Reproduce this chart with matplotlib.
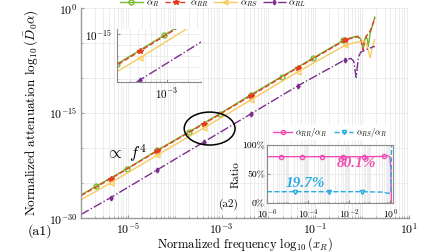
import numpy as np
import matplotlib
matplotlib.use("Agg")
import matplotlib.pyplot as plt
from matplotlib.patches import Ellipse
from matplotlib.ticker import FixedLocator, FuncFormatter, LogLocator, NullFormatter

plt.rcParams['font.family'] = ['cmr10', 'DejaVu Serif']
plt.rcParams['mathtext.fontset'] = 'cm'
plt.rcParams['axes.formatter.use_mathtext'] = True

# values, stored as log10
logx_R = [-6.0, -5.69, -5.03, -4.37, -3.70, -3.04, -2.38, -1.72, -1.06, -0.40,
          -0.25, -0.10, -0.03, 0.02, 0.05, 0.08, 0.11, 0.13, 0.17, 0.22, 0.27]
logy_R = [-26.7, -25.5, -23.0, -20.3, -17.7, -15.1, -12.4, -9.8, -7.2, -4.6,
          -4.25, -4.0, -4.4, -5.9, -4.6, -4.0, -4.5, -5.5, -3.6, -2.5, -1.3]

logx_RR = [-6.0, -5.37, -4.37, -3.37, -2.37, -1.37, -0.37,
           -0.25, -0.10, -0.03, 0.02, 0.05, 0.10, 0.17, 0.22, 0.27]
logy_RR = [-26.8, -24.4, -20.4, -16.5, -12.5, -8.5, -4.6,
           -4.35, -4.1, -4.5, -6.0, -4.7, -3.9, -3.3, -2.4, -1.4]

logx_RS = [-6.0, -5.37, -4.37, -3.37, -2.37, -1.37, -0.37,
           -0.20, 0.04, 0.10, 0.17, 0.22, 0.27]
logy_RS = [-27.4, -25.0, -21.0, -17.1, -13.1, -9.1, -5.35,
           -5.0, -4.7, -5.3, -7.1, -5.5, -4.5]

logx_RL = [-6.0, -5.37, -4.37, -3.37, -2.37, -1.37, -0.37,
           -0.24, -0.18, -0.13, -0.08, -0.03, 0.10, 0.27]
logy_RL = [-29.5, -27.1, -23.1, -19.1, -15.1, -11.1, -7.4,
           -7.2, -7.6, -9.9, -7.0, -6.3, -5.9, -5.45]

# ratio inset
logx_ratio_RR = [-6.0, -5.3, -4.3, -3.3, -2.3, -1.3, -0.32, -0.15, -0.02, 0.03, 0.05, 0.06]
ratio_RR = [80.1, 80.1, 80.1, 80.1, 80.1, 80.1, 80.5, 82.0, 80.0, 60.0, 20.0, -5.0]
logx_ratio_RS = [-6.0, -4.63, -3.0, -1.37, -0.40, -0.10, 0.03, 0.05, 0.07]
ratio_RS = [19.7, 19.7, 19.7, 19.7, 19.0, 17.0, 17.5, 60.0, 110.0]

c_R, c_RR, c_RS, c_RL = '#77B82E', '#E63B22', '#F7CB5F', '#7B2D8E'
c_pink, c_blue = '#F04DB2', '#2AACE2'
grid_c = '#E6E6E6'


def p10(v):
    return 10.0 ** np.array(v)


def pow_fmt(v, pos):
    return r'$10^{%d}$' % int(round(np.log10(v)))


def draw_lines(ax):
    kw = dict(lw=1.0)
    ax.plot(p10(logx_R), p10(logy_R), '-', color=c_R, marker='o', ms=3.5, mfc='none',
            markevery=list(range(1, 10)), label=r'$\alpha_R$', **kw)
    ax.plot(p10(logx_RR), p10(logy_RR), '--', color=c_RR, marker='*', ms=4,
            markevery=list(range(1, 7)), label=r'$\alpha_{RR}$', **kw)
    ax.plot(p10(logx_RS), p10(logy_RS), '-', color=c_RS, marker='<', ms=3.5, mfc='none',
            markevery=list(range(1, 7)), label=r'$\alpha_{RS}$', **kw)
    ax.plot(p10(logx_RL), p10(logy_RL), '-.', color=c_RL, marker='d', ms=2.5,
            markevery=list(range(1, 7)), label=r'$\alpha_{RL}$', **kw)


fig = plt.figure(figsize=(4.48, 2.52), dpi=100)

# main axes
ax = fig.add_axes([0.181, 0.135, 0.732, 0.833])
draw_lines(ax)
ax.set_xscale('log')
ax.set_yscale('log')
ax.set_xlim(1e-6, 10)
ax.set_ylim(1e-30, 1)
ax.xaxis.set_major_locator(FixedLocator([1e-5, 1e-3, 1e-1, 1e1]))
ax.xaxis.set_major_formatter(FuncFormatter(pow_fmt))
ax.xaxis.set_minor_locator(LogLocator(base=10, subs=np.arange(1, 10), numticks=100))
ax.xaxis.set_minor_formatter(NullFormatter())
ax.yaxis.set_major_locator(FixedLocator([1e-30, 1e-15, 1e0]))
ax.yaxis.set_major_formatter(FuncFormatter(pow_fmt))
ax.yaxis.set_minor_locator(FixedLocator([1e-25, 1e-20, 1e-10, 1e-5]))
ax.yaxis.set_minor_formatter(NullFormatter())
ax.grid(True, which='both', color=grid_c, lw=0.5)
for s in ['top', 'right']:
    ax.spines[s].set_visible(False)
for s in ['left', 'bottom']:
    ax.spines[s].set_color('#9a9a9a')
    ax.spines[s].set_linewidth(1.0)
ax.tick_params(which='both', direction='in', labelsize=8.5, color='#9a9a9a', length=2.5, pad=2.5)
ax.tick_params(which='minor', length=1.5)
ax.set_xlabel(r'Normalized frequency $\log_{10}(x_R)$', fontsize=9)
ax.xaxis.set_label_coords(0.5, -0.082)
ax.set_ylabel(r'Normalized attenuation $\log_{10}(\bar{D}_0\alpha)$', fontsize=9.5)
ax.yaxis.set_label_coords(-0.125, 0.5)
fig.text(0.09, 0.083, '(a1)', fontsize=10, ha='center', va='center')

ax.add_patch(Ellipse((0.392, 0.426), 0.155, 0.157, transform=ax.transAxes,
                     fill=False, ec='black', lw=1.1, zorder=5))
ax.text(0.075, 0.31, r'$\propto\ f^4$', transform=ax.transAxes, fontsize=12,
        va='center', zorder=5)

ax.legend(loc='center', bbox_to_anchor=(0.476, 0.985), bbox_transform=fig.transFigure,
          ncol=4, frameon=False, fontsize=7, handlelength=2.3, columnspacing=0.6,
          handletextpad=0.3, borderpad=0.1)

# zoomed inset
ax1 = fig.add_axes([0.261, 0.675, 0.1875, 0.210])
draw_lines(ax1)
ax1.set_xscale('log')
ax1.set_yscale('log')
ax1.set_xlim(2e-4, 3e-3)
ax1.set_ylim(5e-20, 3e-15)
ax1.xaxis.set_major_locator(FixedLocator([1e-3]))
ax1.xaxis.set_major_formatter(FuncFormatter(pow_fmt))
ax1.xaxis.set_minor_locator(LogLocator(base=10, subs=np.arange(1, 10), numticks=100))
ax1.xaxis.set_minor_formatter(NullFormatter())
ax1.yaxis.set_major_locator(FixedLocator([1e-15]))
ax1.yaxis.set_major_formatter(FuncFormatter(pow_fmt))
ax1.yaxis.set_minor_locator(FixedLocator([1e-19, 1e-18, 1e-17, 1e-16]))
ax1.yaxis.set_minor_formatter(NullFormatter())
ax1.grid(True, which='both', color=grid_c, lw=0.5)
for s in ['top', 'right']:
    ax1.spines[s].set_visible(False)
for s in ['left', 'bottom']:
    ax1.spines[s].set_color('#8a8a8a')
ax1.tick_params(which='both', direction='in', labelsize=8, color='#8a8a8a', length=2)
ax1.tick_params(which='minor', length=1)

# ratio inset
ax2 = fig.add_axes([0.596, 0.194, 0.281, 0.230])
ax2.plot(p10(logx_ratio_RR), ratio_RR, '-', color=c_pink, lw=1.0, marker='o', ms=3,
         mfc='none', markevery=list(range(1, 7)), label=r'$\alpha_{RR}/\alpha_R$')
ax2.plot(p10(logx_ratio_RS), ratio_RS, '--', color=c_blue, lw=1.0, marker='v', ms=3,
         mfc='none', markevery=[1, 2, 3], label=r'$\alpha_{RS}/\alpha_R$')
ax2.set_xscale('log')
ax2.set_xlim(1e-6, 1.35)
ax2.set_ylim(0, 100)
ax2.xaxis.set_major_locator(FixedLocator([1e-6, 1e-4, 1e-2, 1e0]))
ax2.xaxis.set_major_formatter(FuncFormatter(pow_fmt))
ax2.xaxis.set_minor_locator(LogLocator(base=10, subs=np.arange(1, 10), numticks=100))
ax2.xaxis.set_minor_formatter(NullFormatter())
ax2.set_yticks([0, 50, 100])
ax2.set_yticklabels(['0%', '50%', '100%'])
ax2.grid(True, which='both', color=grid_c, lw=0.5)
for s in ax2.spines.values():
    s.set_color('#8a8a8a')
ax2.tick_params(which='both', direction='in', labelsize=7, color='#8a8a8a', length=2)
ax2.tick_params(axis='x', pad=3)
ax2.tick_params(axis='y', pad=1.5)
ax2.tick_params(which='minor', length=1)
ax2.set_ylabel('Ratio', fontsize=8, labelpad=1)
ax2.text(0.55, 0.62, '80.1%', transform=ax2.transAxes, color=c_pink, fontsize=11,
         family=['Liberation Serif'], style='italic', weight='bold')
ax2.text(0.15, 0.27, '19.7%', transform=ax2.transAxes, color=c_blue, fontsize=11,
         family=['Liberation Serif'], style='italic', weight='bold')
fig.text(0.51, 0.19, '(a2)', fontsize=8, ha='center', va='center')
ax2.legend(loc='lower center', bbox_to_anchor=(0.5, 1.02), ncol=2, fontsize=6.3,
           frameon=True, edgecolor='none', facecolor='white', framealpha=1,
           handlelength=2.2, columnspacing=0.8, handletextpad=0.3, borderpad=0.1)

fig.savefig('out.png', dpi=100)
